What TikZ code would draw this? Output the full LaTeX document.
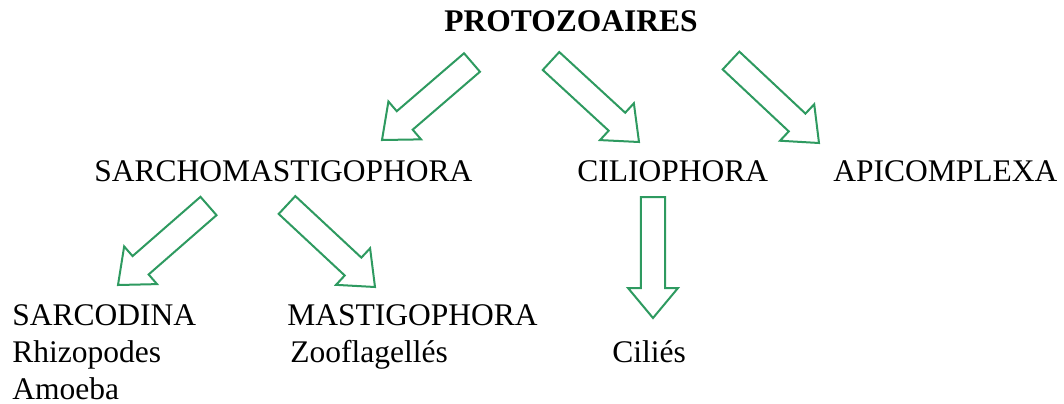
\documentclass[tikz,border=0pt]{standalone}
\usepackage{fontspec}
\setmainfont{Liberation Serif}
\usetikzlibrary{calc}
\definecolor{arrowgreen}{RGB}{46,154,96}
\tikzset{
  label/.style={anchor=base west, inner sep=0pt, font=\fontsize{15.75}{18.5}\selectfont},
  title/.style={label, font=\fontsize{15.75}{18.5}\selectfont\bfseries},
  arrowline/.style={draw=arrowgreen, line width=1pt, fill=white, line join=miter}
}
% hollow block arrow: #1 name, #2 tail centre, #3 tip
\newcommand\protoarrow[3]{%
  \coordinate (#1h) at ($(#3)!15pt!(#2)$);
  \draw[arrowline]
    ($(#2)!6.1pt!90:(#3)$) -- ($(#1h)!6.1pt!-90:(#2)$) -- ($(#1h)!12.5pt!-90:(#2)$)
    -- (#3) -- ($(#1h)!12.5pt!90:(#2)$) -- ($(#1h)!6.1pt!90:(#2)$)
    -- ($(#2)!6.1pt!-90:(#3)$) -- cycle;}
\begin{document}
\begin{tikzpicture}[x=0.5pt, y=-0.5pt]
\useasboundingbox (0,0) rectangle (1064,403);

% taxon names
\node[title] (proto) at (444,31) {PROTOZOAIRES};
\node[label] (sarcho) at (94,181) {SARCHOMASTIGOPHORA};
\node[label] (cilio) at (577,181) {CILIOPHORA};
\node[label] (apico) at (833,181) {APICOMPLEXA};
\node[label] (sarco) at (12,325) {SARCODINA};
\node[label] (rhizo) at (12,362) {Rhizopodes};
\node[label] (amoeba) at (12,399) {Amoeba};
\node[label] (masti) at (287,325) {MASTIGOPHORA};
\node[label] (zoofl) at (290,362) {Zooflagellés};
\node[label] (cilies) at (612,362) {Ciliés};

% arrow ends
\coordinate (t1) at (472,62.5);  \coordinate (p1) at (382,140);
\coordinate (t2) at (551,61);    \coordinate (p2) at (639,142);
\coordinate (t3) at (731,60.5);  \coordinate (p3) at (819,143);
\coordinate (t4) at (208.5,206); \coordinate (p4) at (118,285);
\coordinate (t5) at (287,205);   \coordinate (p5) at (375,287);
\coordinate (t6) at (653,197);   \coordinate (p6) at (653,318);

\protoarrow{a1}{t1}{p1}
\protoarrow{a2}{t2}{p2}
\protoarrow{a3}{t3}{p3}
\protoarrow{a4}{t4}{p4}
\protoarrow{a5}{t5}{p5}
\protoarrow{a6}{t6}{p6}
\end{tikzpicture}
\end{document}
